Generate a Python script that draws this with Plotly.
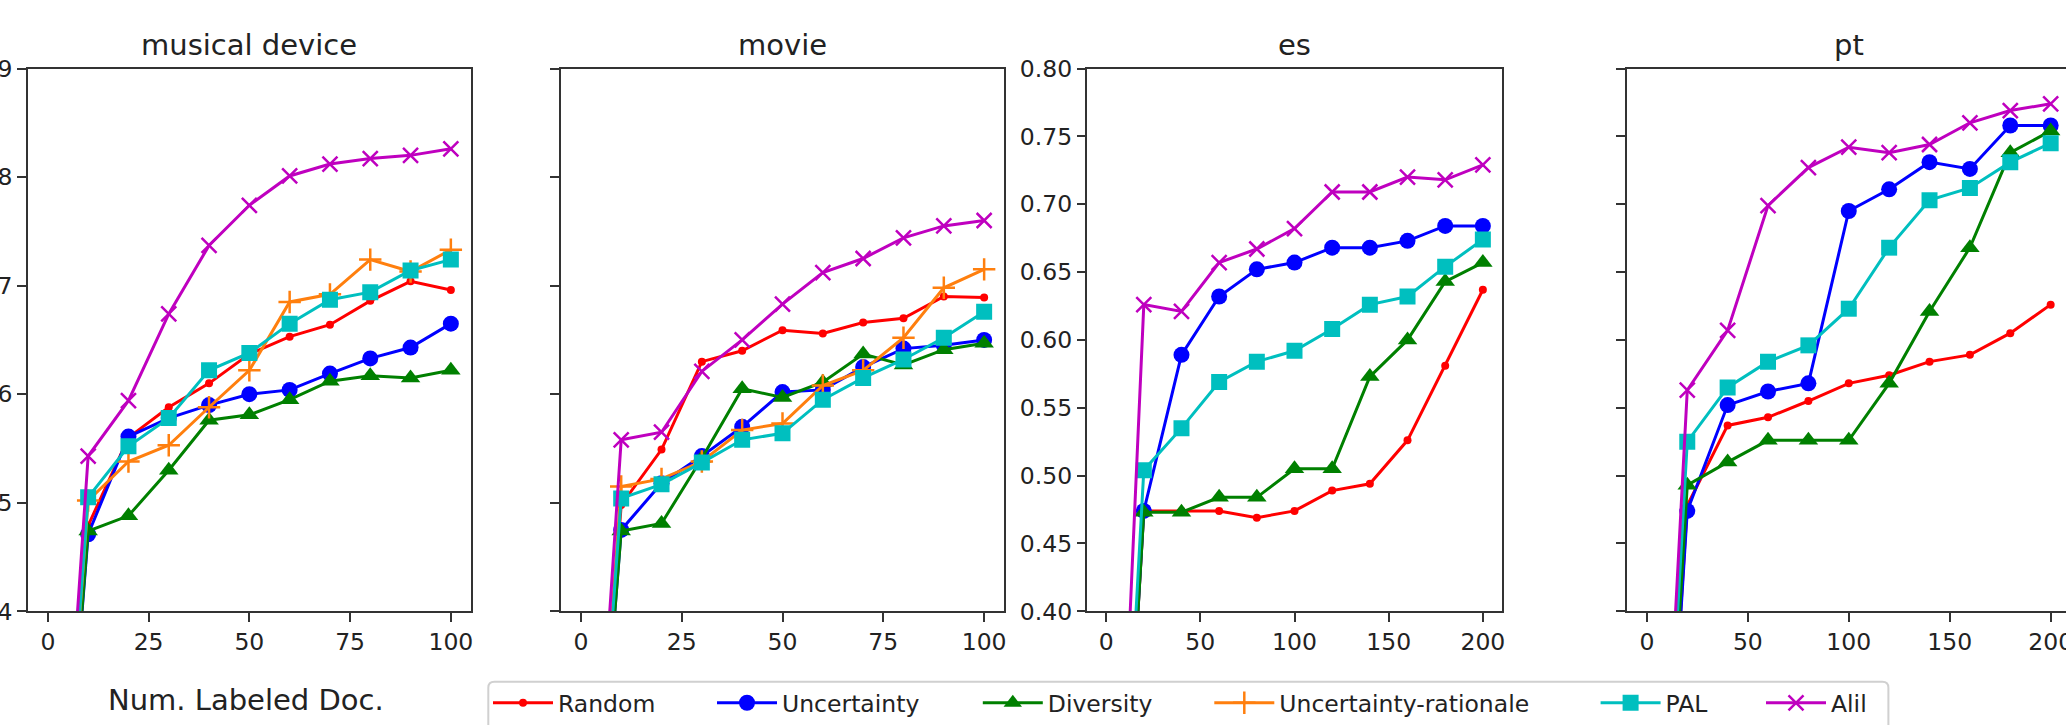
import plotly.graph_objects as go

W, H = 2066, 725

# ---------------- data ----------------
methods = ["Random", "Uncertainty", "Diversity", "Uncertainty-rationale", "PAL", "Alil"]
panel_titles = ["musical device", "movie", "es", "pt"]

x_small = [0, 10, 20, 30, 40, 50, 60, 70, 80, 90, 100]
x_large = [0, 20, 40, 60, 80, 100, 120, 140, 160, 180, 200]
ticks_small = [0, 25, 50, 75, 100]
ticks_large = [0, 50, 100, 150, 200]

md_random = [0.0, 0.479, 0.560, 0.588, 0.610, 0.637, 0.653, 0.664, 0.686, 0.704, 0.696]
md_uncertainty = [0.0, 0.471, 0.561, 0.578, 0.590, 0.600, 0.604, 0.619, 0.633, 0.643, 0.665]
md_diversity = [0.0, 0.474, 0.488, 0.530, 0.576, 0.581, 0.595, 0.612, 0.617, 0.615, 0.622]
md_unc_rationale = [0.0, 0.502, 0.538, 0.553, 0.588, 0.622, 0.685, 0.692, 0.724, 0.713, 0.733]
md_pal = [0.0, 0.505, 0.552, 0.578, 0.622, 0.638, 0.665, 0.687, 0.694, 0.714, 0.724]
md_alil = [0.0, 0.543, 0.594, 0.674, 0.737, 0.774, 0.801, 0.812, 0.817, 0.820, 0.826]

mv_random = [0.0, 0.498, 0.549, 0.630, 0.640, 0.659, 0.656, 0.666, 0.670, 0.690, 0.689]
mv_uncertainty = [0.0, 0.475, 0.518, 0.543, 0.570, 0.602, 0.604, 0.625, 0.642, 0.645, 0.650]
mv_diversity = [0.0, 0.474, 0.481, 0.541, 0.605, 0.597, 0.611, 0.637, 0.627, 0.641, 0.647]
mv_unc_rationale = [0.0, 0.515, 0.522, 0.538, 0.567, 0.573, 0.608, 0.622, 0.652, 0.698, 0.715]
mv_pal = [0.0, 0.504, 0.517, 0.537, 0.558, 0.564, 0.595, 0.615, 0.632, 0.652, 0.676]
mv_alil = [0.0, 0.558, 0.565, 0.621, 0.650, 0.683, 0.712, 0.725, 0.744, 0.755, 0.760]

es_random = [0.0, 0.474, 0.474, 0.474, 0.469, 0.474, 0.489, 0.494, 0.526, 0.581, 0.637]
es_uncertainty = [0.0, 0.474, 0.589, 0.632, 0.652, 0.657, 0.668, 0.668, 0.673, 0.684, 0.684]
es_diversity = [0.0, 0.473, 0.473, 0.484, 0.484, 0.505, 0.505, 0.573, 0.600, 0.643, 0.657]
es_pal = [0.0, 0.504, 0.535, 0.569, 0.584, 0.592, 0.608, 0.626, 0.632, 0.654, 0.674]
es_alil = [0.0, 0.626, 0.621, 0.657, 0.667, 0.682, 0.709, 0.709, 0.720, 0.718, 0.729]

pt_random = [0.0, 0.478, 0.537, 0.543, 0.555, 0.568, 0.574, 0.584, 0.589, 0.605, 0.626]
pt_uncertainty = [0.0, 0.474, 0.552, 0.562, 0.568, 0.695, 0.711, 0.731, 0.726, 0.758, 0.758]
pt_diversity = [0.0, 0.493, 0.510, 0.526, 0.526, 0.526, 0.568, 0.621, 0.668, 0.738, 0.754]
pt_pal = [0.0, 0.525, 0.565, 0.584, 0.596, 0.623, 0.668, 0.703, 0.712, 0.731, 0.745]
pt_alil = [0.0, 0.563, 0.607, 0.699, 0.727, 0.742, 0.738, 0.744, 0.760, 0.769, 0.774]

# ---------------- styles ----------------
style = {
    "Random": dict(color="#ff0000", symbol="circle", size=8, lw=0),
    "Uncertainty": dict(color="#0000ff", symbol="circle", size=16, lw=0),
    "Diversity": dict(color="#008000", symbol="triangle-up", size=17, lw=0),
    "Uncertainty-rationale": dict(color="#ff7f0e", symbol="cross-thin", size=16, lw=2.5),
    "PAL": dict(color="#00bfbf", symbol="square", size=16, lw=0),
    "Alil": dict(color="#bf00bf", symbol="x-thin", size=15, lw=2.5),
}

panels = [
    (x_small, {"Random": md_random, "Uncertainty": md_uncertainty, "Diversity": md_diversity,
               "Uncertainty-rationale": md_unc_rationale, "PAL": md_pal, "Alil": md_alil}),
    (x_small, {"Random": mv_random, "Uncertainty": mv_uncertainty, "Diversity": mv_diversity,
               "Uncertainty-rationale": mv_unc_rationale, "PAL": mv_pal, "Alil": mv_alil}),
    (x_large, {"Random": es_random, "Uncertainty": es_uncertainty, "Diversity": es_diversity,
               "PAL": es_pal, "Alil": es_alil}),
    (x_large, {"Random": pt_random, "Uncertainty": pt_uncertainty, "Diversity": pt_diversity,
               "PAL": pt_pal, "Alil": pt_alil}),
]

# pixel layout -> paper
px_x = [(27.7, 471.0), (560.7, 1004.3), (1087.3, 1501.7), (1626.7, 2066.0)]
y_top_px, y_bot_px = 68.6, 612.2
ydom = [1 - y_bot_px / H, 1 - y_top_px / H]
xranges = [[-5, 105], [-5, 105], [-10, 210], [-10, 207.6]]

fig = go.Figure()
legend_names = {m: ("legend" if i == 0 else f"legend{i+1}") for i, m in enumerate(methods)}

for p, (xs, series) in enumerate(panels):
    xa = "x" if p == 0 else f"x{p+1}"
    ya = "y" if p == 0 else f"y{p+1}"
    for m in methods:
        if m not in series:
            continue
        s = style[m]
        fig.add_trace(go.Scatter(
            x=xs, y=series[m], mode="lines+markers", name=m,
            xaxis=xa, yaxis=ya,
            line=dict(color=s["color"], width=3),
            marker=dict(color=s["color"], symbol=s["symbol"], size=s["size"],
                        line=dict(color=s["color"], width=s["lw"])),
            showlegend=(p == 0), legend=legend_names[m],
        ))

AX = "#333333"
TXT = "#222222"
TICKFONT = dict(family="DejaVu Sans", size=23.5, color=TXT)

layout = dict(
    width=W, height=H, autosize=False,
    margin=dict(l=0, r=0, t=0, b=0, pad=0),
    paper_bgcolor="white", plot_bgcolor="white",
    font=dict(family="DejaVu Sans", color=TXT),
)
for p in range(4):
    xk = "xaxis" if p == 0 else f"xaxis{p+1}"
    yk = "yaxis" if p == 0 else f"yaxis{p+1}"
    x0, x1 = px_x[p]
    layout[xk] = dict(
        domain=[x0 / W, x1 / W], range=xranges[p], anchor="y" if p == 0 else f"y{p+1}",
        tickmode="array", tickvals=ticks_small if p < 2 else ticks_large,
        showline=True, mirror=True, linecolor=AX, linewidth=2,
        ticks="outside", ticklen=8.5, tickwidth=1.9, tickcolor=AX,
        showgrid=False, zeroline=False, tickfont=TICKFONT, automargin=False,
        ticklabeloverflow="allow",
    )
    layout[yk] = dict(
        domain=ydom, anchor="x" if p == 0 else f"x{p+1}",
        range=[0.4, 0.9] if p < 2 else [0.4, 0.8],
        tick0=0.4, dtick=0.1 if p < 2 else 0.05,
        tickformat=".1f" if p < 2 else ".2f",
        showticklabels=(p in (0, 2)),
        showline=True, mirror=(p != 3), linecolor=AX, linewidth=2,
        ticks="outside", ticklen=8.5, tickwidth=1.9, tickcolor=AX,
        showgrid=False, zeroline=False, tickfont=TICKFONT, automargin=False,
        ticklabeloverflow="allow",
    )

# legends: one per method, placed along the bottom
leg_line_start = [496, 720, 985.8, 1217.3, 1603.6, 1769]
for i, m in enumerate(methods):
    key = "legend" if i == 0 else f"legend{i+1}"
    layout[key] = dict(
        x=(leg_line_start[i] - 8) / W, xanchor="left",
        y=1 - 703.5 / H, yanchor="middle",
        orientation="h", bgcolor="rgba(0,0,0,0)", borderwidth=0,
        font=dict(family="DejaVu Sans", size=23.5, color=TXT),
        itemwidth=60,
    )

fig.update_layout(**layout)

# titles
anns = []
for p, t in enumerate(panel_titles):
    x0, x1 = px_x[p]
    cx = (x0 + x1) / 2 if p < 3 else 1848.9
    anns.append(dict(text=t, x=cx / W, y=1 - 44.8 / H, xref="paper", yref="paper",
                     xanchor="center", yanchor="middle", showarrow=False,
                     font=dict(family="DejaVu Sans", size=29, color=TXT)))
anns.append(dict(text="Num. Labeled Doc.", x=246 / W, y=1 - 700.5 / H, xref="paper", yref="paper",
                 xanchor="center", yanchor="middle", showarrow=False,
                 font=dict(family="DejaVu Sans", size=29, color=TXT)))
fig.update_layout(annotations=anns)

# legend frame (rounded box, cut at the bottom)
lx0, lx1 = 488.3 / W, 1888.4 / W
lyt, lyb = 1 - 682.7 / H, -0.05
rx, ry = 6 / W, 6 / H
path = (f"M {lx0},{lyb} L {lx0},{lyt - ry} Q {lx0},{lyt} {lx0 + rx},{lyt} "
        f"L {lx1 - rx},{lyt} Q {lx1},{lyt} {lx1},{lyt - ry} L {lx1},{lyb}")
fig.add_shape(type="path", path=path, xref="paper", yref="paper",
              line=dict(color="#d0d0d0", width=2), layer="below")

fig.write_html("out.html")
